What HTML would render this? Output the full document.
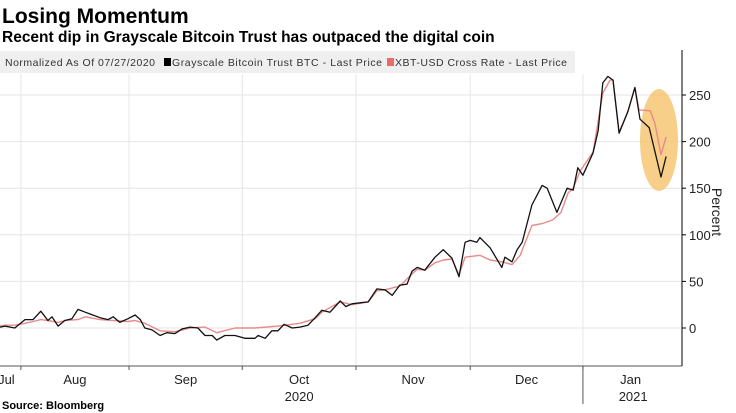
<!DOCTYPE html>
<html><head><meta charset="utf-8"><style>
body{margin:0;background:#fff;width:736px;height:413px;overflow:hidden}
svg{display:block;font-family:"Liberation Sans",sans-serif}
</style></head><body>
<svg id="chart" width="736" height="413">
<text x="2" y="23" font-size="21" font-weight="bold" fill="#000">Losing Momentum</text>
<text x="2" y="42" font-size="15.5" font-weight="bold" fill="#000">Recent dip in Grayscale Bitcoin Trust has outpaced the digital coin</text>
<g id="grid"></g>
<g>
<rect x="0" y="51" width="575" height="22" fill="#efefef"/>
<text x="5" y="66" font-size="10.5" fill="#333" textLength="150">Normalized As Of 07/27/2020</text>
<rect x="164" y="58" width="7" height="8" fill="#000"/>
<text x="172" y="66" font-size="10.5" fill="#333" textLength="210">Grayscale Bitcoin Trust BTC - Last Price</text>
<rect x="387" y="58" width="7" height="8" fill="#e86a6a"/>
<text x="395" y="66" font-size="10.5" fill="#333" textLength="172">XBT-USD Cross Rate - Last Price</text>
</g>
<g id="marks"></g>
<g id="axes"></g>
<text x="2" y="409" font-size="11" font-weight="bold" fill="#000">Source: Bloomberg</text>
</svg>
<script>
const btcDays=[0,1,2.9,4.9,6.5,8,9.4,10.2,11.4,12.7,14.1,15.3,16.7,18.2,19.6,21.2,22.2,23.5,25.1,26.5,27.5,28.4,29.8,31.4,32.7,34.3,35.7,37.3,38.8,40.2,41.6,42.5,44.1,46.1,48,50,50.6,52,53.3,54.5,55.7,57.3,58.8,60.4,61.8,63.1,64.7,66.7,67.8,69,70.6,72.2,73.9,75.5,76.9,78.4,79.8,80.8,81.8,83.3,85.3,86.9,88.6,90,91.2,92.2,93.5,94.1,96.1,98.4,99,100.4,101.4,102.4,104.3,106.3,107.3,109.2,111.2,112.4,113.3,114.3,116.3,117.3,118.2,119.2,120.2,121.4,123.1,124.5,125.5,127.3,129.6,130.6];
const btcValues=[1,2,0,9,9,18,8,12,2,8,10,20,17,14,11,9,12,6,10,14,9,0,-2,-8,-5,-6,-1,1,0,-8,-8,-13,-8,-8,-11,-11,-8,-11,-3,-3,4,0,1,3,11,19,17,29,23,26,27,28,42,41,35,46,47,61,65,62,76,84,75,55,92,94,92,97,86,65,76,71,84,92,132,153,150,124,150,148,172,164,188,212,263,270,266,209,232,258,224,215,162,184];
const xbtDays=[0,1,2.9,4.9,6.5,8,9.4,11.4,12.7,15.3,16.7,19.6,22.2,25.1,26.5,28.4,31.4,34.3,37.3,40.2,42.5,46.1,50,54.5,58.8,61.8,63.1,66.7,69,72.2,73.9,75.5,78.4,80.8,81.8,83.3,85.3,86.9,88.6,90,91.2,94.1,96.1,98.4,100.4,102,104.3,106.3,108.4,110,111.4,112.4,113.7,116.3,118.2,119.6,120.2,121.4,123.1,124.5,125.3,127.5,128.4,129.6,130.6];
const xbtValues=[2,3,3,5,7,9,8,6,8,9,12,9,8,7,8,5,-3,-4,0,1,-5,0,0,2,5,10,17,28,25,28,40,41,45,58,63,62,70,73,74,57,76,78,73,71,68,78,110,112,116,124,145,150,168,189,252,266,266,210,232,258,234,233,220,186,205];
const yTicks=[0,50,100,150,200,250];
const monthLabels=["Jul","Aug","Sep","Oct","Nov","Dec","Jan"];
const monthStarts=[-4,4.1,25.3,47.5,69.8,92.2,114.3,134];
const yearLabels=["2020","2021"];

const NS="http://www.w3.org/2000/svg";
const X0=0,PX=5.1;
const xs=d=>X0+d*PX;
const ys=v=>328-v*0.932;
function mk(tag,attrs,parent){const e=document.createElementNS(NS,tag);for(const k in attrs)e.setAttribute(k,attrs[k]);parent.appendChild(e);return e;}
const grid=document.getElementById('grid'),marks=document.getElementById('marks'),axes=document.getElementById('axes');

yTicks.forEach(t=>{
  const l=mk('line',{x1:0,x2:681,y1:ys(t),y2:ys(t),stroke:'#e6e6e6','stroke-width':1},grid);
  
  
  const tk=mk('line',{x1:682,x2:686,y1:ys(t),y2:ys(t),stroke:'#000'},axes);
  
  
  const tx=mk('text',{x:689,y:ys(t)+5,'font-size':13,fill:'#222'},axes);
  tx.textContent=t;
  
  
});
monthStarts.slice(1,7).forEach((d,i)=>{
  const l=mk('line',{x1:xs(d),x2:xs(d),y1:74,y2:366,stroke:'#e6e6e6'},grid);
  
  
  const tk=mk('line',{x1:xs(d),x2:xs(d),y1:366,y2:370,stroke:'#555'},axes);
  
  
});
monthLabels.forEach((m,i)=>{
  let c=(xs(Math.max(monthStarts[i],-1.6))+xs(Math.min(monthStarts[i+1],133)))/2;
  const t=mk('text',{x:c,y:384,'font-size':13,fill:'#222','text-anchor':'middle'},axes);
  t.textContent=m;
  
  
});
const yl1=mk('text',{x:(xs(monthStarts[3])+xs(monthStarts[4]))/2,y:401,'font-size':13,fill:'#222','text-anchor':'middle'},axes);
yl1.textContent=yearLabels[0];


const yl2=mk('text',{x:(xs(monthStarts[6])+xs(monthStarts[7]))/2,y:401,'font-size':13,fill:'#222','text-anchor':'middle'},axes);
yl2.textContent=yearLabels[1];


const div=mk('line',{x1:xs(monthStarts[6]),x2:xs(monthStarts[6]),y1:366,y2:404,stroke:'#555'},axes);


const xa=mk('line',{x1:0,x2:682,y1:366,y2:366,stroke:'#555'},axes);


const ya=mk('line',{x1:682,x2:682,y1:50,y2:366,stroke:'#000'},axes);


const yt=mk('text',{x:0,y:0,'font-size':14,fill:'#222','text-anchor':'middle',transform:'translate(712,212) rotate(90)'},axes);
yt.textContent='Percent';



const hl=mk('ellipse',{cx:659,cy:140,rx:19,ry:51,fill:'#f5bf62','fill-opacity':0.75},marks);


function line(days,vals,color,w,name){
  const p=mk('polyline',{points:days.map((d,i)=>xs(d).toFixed(1)+','+ys(vals[i]).toFixed(1)).join(' '),fill:'none',stroke:color,'stroke-width':w,'stroke-linejoin':'round'},marks);
  
  
}
line(xbtDays,xbtValues,'#e88a8a',1.4,'xbt-usd-line');
line(btcDays,btcValues,'#111',1.3,'gbtc-line');
</script>
</body></html>
